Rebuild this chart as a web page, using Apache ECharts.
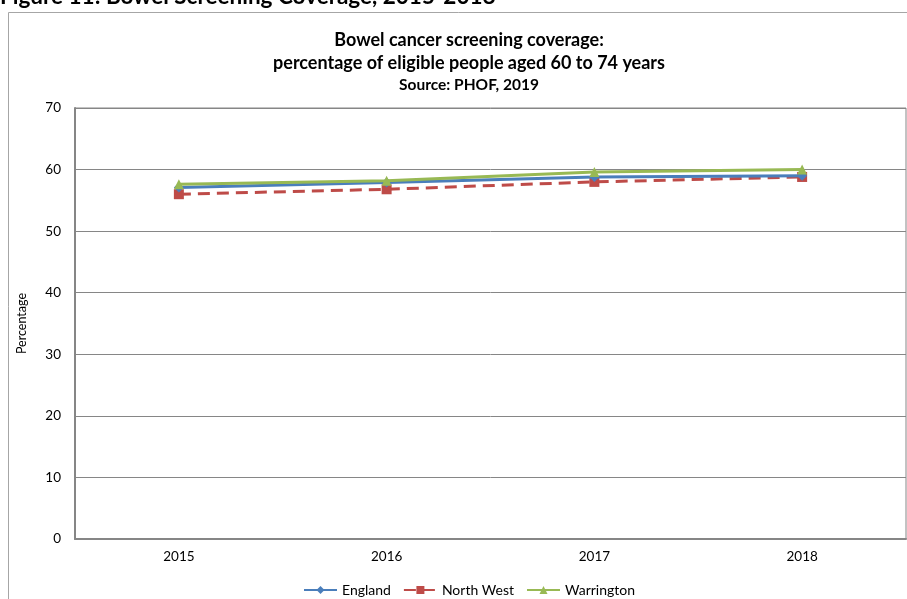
<!DOCTYPE html>
<html><head><meta charset="utf-8">
<script src="https://cdn.jsdelivr.net/npm/echarts@6/dist/echarts.min.js"></script>
<style>html,body{margin:0;padding:0;background:#fff}#c{width:907px;height:599px}</style>
</head><body><div id="c"></div>
<script>
const years = ['2015','2016','2017','2018'];
const england = [57.1, 57.9, 58.8, 59.0];
const northWest = [56.0, 56.8, 58.0, 58.8];
const warrington = [57.6, 58.2, 59.6, 60.0];
const yTicks = [0,10,20,30,40,50,60,70];

const FONT = 'Lato';
const chart = echarts.init(document.getElementById('c'), null, {renderer:'canvas'});
chart.setOption({
  animation:false,
  textStyle:{fontFamily:FONT},
  graphic:[
    {type:'rect', shape:{x:8.5,y:12.5,width:930,height:620}, style:{fill:'none',stroke:'#a6a6a6',lineWidth:1}, z:0},
    {type:'text', left:0, top:-15, style:{text:'Figure 11: Bowel Screening Coverage, 2015-2018', font:'bold 22.5px '+FONT, fill:'#000'}}
  ],
  title:{
    text:'Bowel cancer screening coverage:\npercentage of eligible people aged 60 to 74 years',
    subtext:'Source: PHOF, 2019',
    left:464, top:24, textAlign:'center', itemGap:2,
    textStyle:{fontSize:18, fontWeight:'bold', color:'#000', lineHeight:23, fontFamily:FONT},
    subtextStyle:{fontSize:15.5, fontWeight:'bold', color:'#000', fontFamily:FONT}
  },
  legend:{
    left:298, top:578, itemWidth:33, itemHeight:10, itemGap:12,
    textStyle:{fontSize:14, color:'#000', fontFamily:FONT},
    data:['England','North West','Warrington']
  },
  grid:{left:75, right:1, top:108, bottom:60, show:true, borderColor:'#868686', borderWidth:1},
  xAxis:{type:'category', data:years, boundaryGap:true,
    axisLine:{lineStyle:{color:'#868686', width:2}}, axisTick:{show:false},
    axisLabel:{color:'#000', fontSize:13.5, margin:11, fontFamily:FONT}},
  yAxis:{type:'value', min:0, max:70, interval:10,
    name:'Percentage', nameLocation:'middle', nameGap:47, nameRotate:90,
    nameTextStyle:{fontSize:12.5, color:'#000', fontFamily:FONT},
    axisLine:{show:true, lineStyle:{color:'#868686', width:2}}, axisTick:{show:false},
    splitLine:{lineStyle:{color:'#868686', width:1}},
    axisLabel:{color:'#000', fontSize:13.5, margin:14, fontFamily:FONT,
      formatter:v=>yTicks.includes(v)?String(v):''}},
  series:[
    {name:'England', type:'line', data:england, symbol:'diamond', symbolSize:10,
      lineStyle:{color:'#4a7ebb', width:3}, itemStyle:{color:'#4a7ebb'}, z:3},
    {name:'North West', type:'line', data:northWest, symbol:'rect', symbolSize:10,
      lineStyle:{color:'#be4b48', width:3, type:[12,7]}, itemStyle:{color:'#be4b48'}, z:2},
    {name:'Warrington', type:'line', data:warrington, symbol:'triangle', symbolSize:10,
      lineStyle:{color:'#98b954', width:3}, itemStyle:{color:'#98b954'}, z:4}
  ]
});
</script></body></html>
